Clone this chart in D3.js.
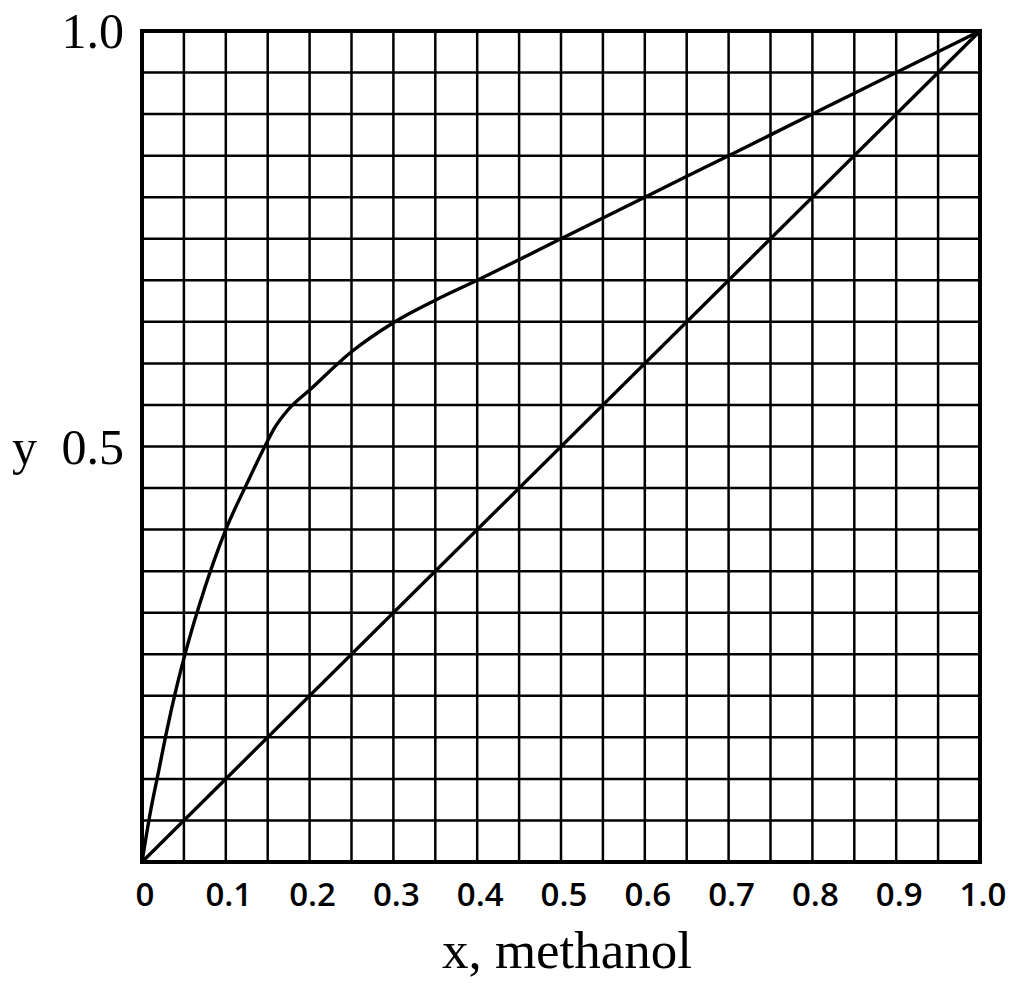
<!DOCTYPE html>
<html>
<head>
<meta charset="utf-8">
<script src="https://cdn.jsdelivr.net/npm/d3@7"></script>
<style>
  html, body { margin: 0; padding: 0; background: #fff; }
  svg { display: block; }
</style>
</head>
<body>
<svg id="chart" width="1016" height="986"></svg>
<script>
// Equilibrium curve (x = liquid mole fraction methanol, y = vapour mole fraction)
const eqX = [0, 0.01, 0.02, 0.03, 0.04, 0.05, 0.075, 0.1, 0.125, 0.15, 0.158, 0.175, 0.2, 0.25, 0.3, 0.35, 0.4, 0.5, 0.6, 0.7, 0.8, 0.9, 1.0];
const eqY = [0, 0.06, 0.11, 0.16, 0.205, 0.245, 0.33, 0.4, 0.455, 0.507, 0.522, 0.545, 0.568, 0.614, 0.649, 0.676, 0.70, 0.75, 0.80, 0.85, 0.90, 0.95, 1.0];
// 45-degree line
const diagX = [0, 1];
const diagY = [0, 1];
// ticks
const xTickValues = [0, 0.1, 0.2, 0.3, 0.4, 0.5, 0.6, 0.7, 0.8, 0.9, 1.0];
const xTickLabels = ["0", "0.1", "0.2", "0.3", "0.4", "0.5", "0.6", "0.7", "0.8", "0.9", "1.0"];
const yTickValues = [0.5, 1.0];
const yTickLabels = ["0.5", "1.0"];
const gridStep = 0.05;
const xTitle = "x, methanol";
const yTitle = "y";

const svg = d3.select("#chart");
const margin = { left: 142, right: 36, top: 31, bottom: 124 };
const W = 1016, H = 986;
const x = d3.scaleLinear().domain([0, 1]).range([margin.left, W - margin.right]);
const y = d3.scaleLinear().domain([0, 1]).range([H - margin.bottom, margin.top]);

const gridVals = d3.range(0, 1 + 1e-9, gridStep);

// grid
const grid = svg.append("g").attr("stroke", "#000").attr("stroke-width", 2.5);
grid.selectAll("line.v").data(gridVals).join("line")
  .attr("x1", d => x(d)).attr("x2", d => x(d))
  .attr("y1", y(0)).attr("y2", y(1));
grid.selectAll("line.h").data(gridVals).join("line")
  .attr("y1", d => y(d)).attr("y2", d => y(d))
  .attr("x1", x(0)).attr("x2", x(1));

// frame
svg.append("rect")
  .attr("x", x(0)).attr("y", y(1))
  .attr("width", x(1) - x(0)).attr("height", y(0) - y(1))
  .attr("fill", "none").attr("stroke", "#000").attr("stroke-width", 4);

// curves
const line = d3.line().x(d => x(d[0])).y(d => y(d[1]));
svg.append("path")
  .attr("d", line.curve(d3.curveMonotoneX)(eqX.map((v, i) => [v, eqY[i]])))
  .attr("fill", "none").attr("stroke", "#000").attr("stroke-width", 3.4)
  .attr("stroke-linejoin", "round");
svg.append("path")
  .attr("d", d3.line().x(d => x(d[0])).y(d => y(d[1]))(diagX.map((v, i) => [v, diagY[i]])))
  .attr("fill", "none").attr("stroke", "#000").attr("stroke-width", 3.4);

// x tick labels
svg.append("g").selectAll("text").data(xTickValues).join("text")
  .attr("x", d => x(d) + 3)
  .attr("y", H - margin.bottom + 44)
  .attr("text-anchor", "middle")
  .attr("font-family", "'Open Sans', sans-serif")
  .attr("font-size", 33)
  .attr("font-weight", 600)
  .attr("fill", "#000")
  .text((d, i) => xTickLabels[i]);

// y tick labels
svg.append("g").selectAll("text").data(yTickValues).join("text")
  .attr("x", margin.left - 18)
  .attr("y", d => y(d) + 17)
  .attr("text-anchor", "end")
  .attr("font-family", "'Liberation Serif', 'Times New Roman', serif")
  .attr("font-size", 50)
  .attr("fill", "#000")
  .text((d, i) => yTickLabels[i]);

// y title
svg.append("text")
  .attr("x", 12).attr("y", y(0.5) + 17)
  .attr("font-family", "'Liberation Serif', 'Times New Roman', serif")
  .attr("font-size", 50)
  .attr("fill", "#000")
  .text(yTitle);

// x title
svg.append("text")
  .attr("x", (x(0) + x(1)) / 2 + 6).attr("y", 968)
  .attr("text-anchor", "middle")
  .attr("font-family", "'Liberation Serif', 'Times New Roman', serif")
  .attr("font-size", 53)
  .attr("fill", "#000")
  .text(xTitle);
</script>
</body>
</html>
